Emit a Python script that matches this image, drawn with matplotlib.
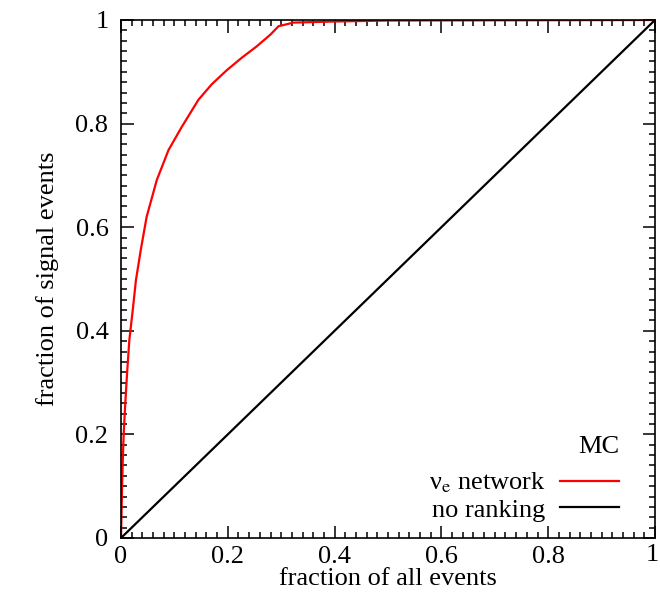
import matplotlib
matplotlib.use("Agg")
import matplotlib.pyplot as plt
from matplotlib.ticker import MultipleLocator, FixedLocator

plt.rcParams['font.family'] = ['Liberation Serif', 'DejaVu Serif']
plt.rcParams['mathtext.fontset'] = 'stix'

# Cumulative signal fraction vs. fraction of all events (ranked by network output)
network_x = [0.0, 0.001, 0.002, 0.0035, 0.005, 0.008, 0.0115, 0.0156, 0.022, 0.028,
             0.037, 0.048, 0.067, 0.089, 0.114, 0.145, 0.170, 0.198, 0.226,
             0.254, 0.280, 0.295, 0.323, 0.397, 0.5, 1.0]
network_y = [0.0, 0.05, 0.10, 0.155, 0.20, 0.26, 0.32, 0.382, 0.440, 0.498,
             0.556, 0.620, 0.691, 0.749, 0.794, 0.846, 0.876, 0.903, 0.927,
             0.949, 0.972, 0.988, 0.995, 0.997, 0.999, 1.0]
# Random ordering baseline
baseline_x = [0.0, 1.0]
baseline_y = [0.0, 1.0]

x_ticks = [0.0, 0.2, 0.4, 0.6, 0.8, 1.0]
x_labels = ['0', '0.2', '0.4', '0.6', '0.8', '1']
y_ticks = [0.0, 0.2, 0.4, 0.6, 0.8, 1.0]
y_labels = ['0', '0.2', '0.4', '0.6', '0.8', '1']

FS = 19

fig = plt.figure(figsize=(6.6, 6.01), dpi=100)
ax = fig.add_axes([121/660, 1-538/601, 534/660, 518/601])

ax.plot(network_x, network_y, color='#ff0000', lw=1.6, label='ν$_{\\rm e}$ network')
ax.plot(baseline_x, baseline_y, color='black', lw=1.6, label='no ranking')

ax.set_xlim(0, 1)
ax.set_ylim(0, 1)
ax.xaxis.set_major_locator(FixedLocator(x_ticks))
ax.xaxis.set_minor_locator(MultipleLocator(0.02))
ax.yaxis.set_major_locator(FixedLocator(y_ticks))
ax.yaxis.set_minor_locator(MultipleLocator(0.02))
# last x label is drawn separately so it stays inside the canvas
ax.set_xticklabels(x_labels[:-1] + [''])
ax.set_yticklabels(y_labels)

ax.tick_params(which='both', direction='in', top=True, right=True, width=1.1,
               labelsize=FS, colors='black')
ax.tick_params(which='major', length=9)
ax.tick_params(axis='y', which='major', pad=9)
ax.tick_params(axis='x', which='major', pad=6)
ax.tick_params(which='minor', length=4.5)
for s in ax.spines.values():
    s.set_linewidth(1.2)

ax.text(1 - 3/534, -6/518, x_labels[-1], transform=ax.transAxes,
        ha='center', va='top', fontsize=FS)

ax.set_xlabel('fraction of all events', fontsize=FS, labelpad=0)
ax.set_ylabel('fraction of signal events', fontsize=FS, labelpad=12)

leg = ax.legend(loc='lower right', bbox_to_anchor=(0.9675, -0.004), frameon=False,
                markerfirst=False, fontsize=FS, handlelength=2.24,
                handletextpad=0.55, labelspacing=0.1, borderpad=0.2)
ax.text((619-121)/534, (538-447)/518, 'MC', transform=ax.transAxes,
        ha='right', va='center', fontsize=FS)

fig.savefig('out.png', dpi=100)
